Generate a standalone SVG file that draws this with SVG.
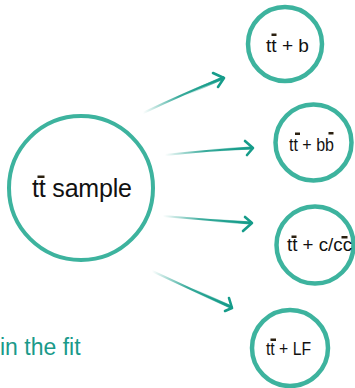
<svg xmlns="http://www.w3.org/2000/svg" width="355" height="388" viewBox="0 0 355 388">
<style>
.node{fill:#fff;stroke:#3db39e;stroke-width:4.5}
.big{stroke-width:4}
.lbl{font-family:"Liberation Sans",Arial,sans-serif;fill:#111}
.bar{fill:#2b2010}
.shaft{fill:none;stroke:url(#fade);stroke-width:2.2;stroke-linecap:round}
.shaft2{fill:none;stroke:url(#fade2);stroke-width:3.2;stroke-linecap:round}
.head{fill:none;stroke:#169c8a;stroke-width:2.6;stroke-linecap:round;stroke-linejoin:round}
</style>
<defs>
<linearGradient id="fade" x1="0" y1="0" x2="1" y2="0">
<stop offset="0" stop-color="#169c8a" stop-opacity="0"/>
<stop offset="0.45" stop-color="#169c8a" stop-opacity="0.85"/>
<stop offset="1" stop-color="#169c8a" stop-opacity="1"/>
</linearGradient>
<linearGradient id="fade2" x1="0" y1="0" x2="1" y2="0">
<stop offset="0" stop-color="#169c8a" stop-opacity="0"/>
<stop offset="1" stop-color="#169c8a" stop-opacity="1"/>
</linearGradient>
</defs>
<rect width="355" height="388" fill="#fff"/>
<g id="connectors">
<path class="shaft" d="M143,113 Q185,93 223,78"/>
<path class="shaft2" d="M185,94 Q205,86 223,78"/>
<path class="head" d="M213,73 L224,78 L218,87"/>
<path class="shaft" d="M165,155 Q210,150 252,148"/>
<path class="shaft2" d="M210,150.5 Q231,149 252,148"/>
<path class="head" d="M245,141 L253,148 L247,155"/>
<path class="shaft" d="M163,216 Q208,220 251,223"/>
<path class="shaft2" d="M208,220 Q230,221.5 251,223"/>
<path class="head" d="M245,217 L252,223 L243,231"/>
<path class="shaft" d="M152,271 Q192,290 231,307"/>
<path class="shaft2" d="M192,289.5 Q212,298.5 231,307"/>
<path class="head" d="M229,298 L232,308 L225,311"/>
</g>
<g id="sample">
<circle class="node big" cx="81" cy="188" r="72"/>
<text class="lbl" x="32" y="197" font-size="25" textLength="100">tt sample</text>
<rect class="bar" x="37.5" y="175.5" width="7" height="2.5"/>
</g>
<g id="ttb">
<circle class="node" cx="285" cy="44" r="37"/>
<text class="lbl" x="266" y="52" font-size="18" textLength="43" lengthAdjust="spacingAndGlyphs">tt + b</text>
<rect class="bar" x="271.5" y="33.5" width="5" height="2.5"/>
</g>
<g id="ttbb">
<circle class="node" cx="313.5" cy="142.5" r="38"/>
<text class="lbl" x="289" y="150.5" font-size="18" textLength="45" lengthAdjust="spacingAndGlyphs">tt + bb</text>
<rect class="bar" x="295" y="132.5" width="5" height="2.5"/>
<rect class="bar" x="328.5" y="132" width="5" height="2.5"/>
</g>
<g id="ttcc">
<circle class="node" cx="315" cy="245" r="38.5"/>
<text class="lbl" x="287" y="251" font-size="18" textLength="65" lengthAdjust="spacingAndGlyphs">tt + c/cc</text>
<rect class="bar" x="291.5" y="235.5" width="5" height="2.5"/>
<rect class="bar" x="341.5" y="236" width="6" height="2.5"/>
</g>
<g id="ttlf">
<circle class="node" cx="290" cy="348" r="38"/>
<text class="lbl" x="266" y="355" font-size="18" textLength="45" lengthAdjust="spacingAndGlyphs">tt + LF</text>
<rect class="bar" x="270.5" y="338.5" width="5.5" height="2.5"/>
</g>
<text x="0" y="355" font-family="Liberation Sans,Arial,sans-serif" font-size="23" fill="#1a9a8a">in the fit</text>
</svg>
